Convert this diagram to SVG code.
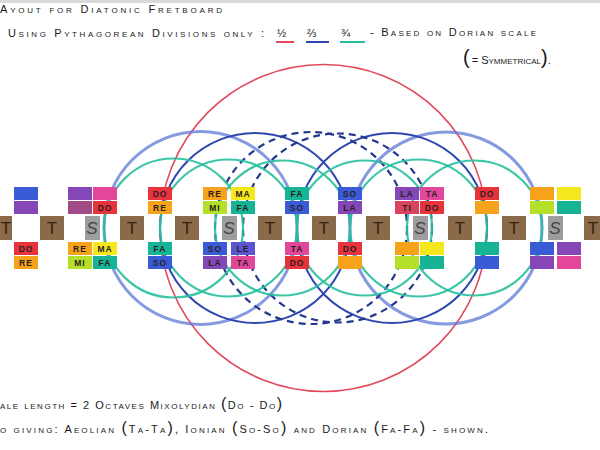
<svg xmlns="http://www.w3.org/2000/svg" width="600" height="450" viewBox="0 0 600 450">
<style>
.hand{font-family:"Liberation Sans","DejaVu Sans",sans-serif;font-variant:small-caps;fill:#1a1a1a;font-size:11px}
.red-c{fill:none;stroke:#e24a5c;stroke-width:1.6}
.bl{fill:none;stroke:#5d78d6;stroke-width:3;stroke-opacity:0.75}
.bd{fill:none;stroke:#2f48b0;stroke-width:2}
.bdash{fill:none;stroke:#24388f;stroke-width:2.2;stroke-dasharray:7 5}
.tl{fill:none;stroke:#27bf9d;stroke-width:2.2;stroke-opacity:0.9}
.lt{font-family:"Liberation Sans","DejaVu Sans",sans-serif;font-size:8.5px;font-weight:bold;fill:#2a2020;text-anchor:middle;letter-spacing:1px}
.tb{fill:#8a6a48}
.tt{font-family:"Liberation Sans","DejaVu Sans",sans-serif;font-size:17px;fill:#33230f;text-anchor:middle}
.sb{fill:#9d9d9d}
.st{font-family:"Liberation Sans","DejaVu Sans",sans-serif;font-size:17px;font-style:italic;fill:#444;text-anchor:middle}
.red{fill:#e8323c}.orange{fill:#f7a21b}.yg{fill:#b4e02a}.yellow{fill:#f4e81c}.teal{fill:#16b394}.blue{fill:#3b5bd6}.purple{fill:#8547b8}.magenta{fill:#e2479b}.maroon{fill:#a14a86}.violet{fill:#5b55d0}.pinkred{fill:#d9435e}
</style>
<rect width="600" height="450" fill="#ffffff"/>
<rect width="600" height="3" fill="#d8d8d8"/>

<g id="title">
<text class="hand" x="0" y="13" textLength="222" lengthAdjust="spacing">Ayout for Diatonic Fretboard</text>
<text class="hand" x="8" y="37" textLength="256" lengthAdjust="spacing">Using Pythagorean Divisions only :</text>
<text class="hand" x="277" y="37" font-size="15">½</text>
<line x1="276" y1="42" x2="294" y2="42" stroke="#e24a5c" stroke-width="2"/>
<text class="hand" x="307" y="37" font-size="15">⅔</text>
<line x1="306" y1="42" x2="329" y2="42" stroke="#2f48b0" stroke-width="2"/>
<text class="hand" x="341" y="37" font-size="15">¾</text>
<line x1="340" y1="42" x2="365" y2="42" stroke="#27bf9d" stroke-width="2"/>
<text class="hand" x="370" y="36" textLength="166" lengthAdjust="spacing">- Based on Dorian scale</text>
<text class="hand" x="463" y="64"><tspan font-size="20" font-variant="normal">(</tspan><tspan dx="2">= Symmetrical</tspan><tspan font-size="20" font-variant="normal">)</tspan>.</text>
</g>

<g id="connectors">
<circle class="red-c" cx="323.5" cy="228" r="163.5"/>
<circle class="bl" cx="200.5" cy="228" r="96.5"/>
<circle class="bl" cx="446" cy="228" r="96"/>
<circle class="bd" cx="255" cy="228" r="95"/>
<circle class="bd" cx="392" cy="228" r="95"/>
<circle class="bdash" cx="311" cy="228" r="96"/>
<circle class="bdash" cx="337.5" cy="228" r="94.5"/>
<circle class="tl" cx="173.5" cy="228" r="69.5"/>
<circle class="tl" cx="228.5" cy="228" r="68.5"/>
<circle class="tl" cx="282.5" cy="228" r="67.5"/>
<circle class="tl" cx="364.5" cy="228" r="67.5"/>
<circle class="tl" cx="418.5" cy="228" r="68.5"/>
<circle class="tl" cx="474.5" cy="228" r="67.5"/>
</g>

<g id="steps">
<g id="t0"><rect class="tb" x="-12" y="216" width="24" height="24"/><text class="tt" x="6" y="234">T</text></g>
<g id="t1"><rect class="tb" x="40" y="216" width="24" height="24"/><text class="tt" x="52" y="234">T</text></g>
<g id="s1"><rect class="sb" x="85" y="216" width="15" height="24"/><text class="st" x="92" y="234">S</text></g>
<g id="t2"><rect class="tb" x="120" y="216" width="24" height="24"/><text class="tt" x="132" y="234">T</text></g>
<g id="t3"><rect class="tb" x="175" y="216" width="24" height="24"/><text class="tt" x="187" y="234">T</text></g>
<g id="s2"><rect class="sb" x="222" y="216" width="15" height="24"/><text class="st" x="229" y="234">S</text></g>
<g id="t4"><rect class="tb" x="258" y="216" width="24" height="24"/><text class="tt" x="270" y="234">T</text></g>
<g id="t5"><rect class="tb" x="312" y="216" width="24" height="24"/><text class="tt" x="324" y="234">T</text></g>
<g id="t6"><rect class="tb" x="366" y="216" width="24" height="24"/><text class="tt" x="378" y="234">T</text></g>
<g id="s3"><rect class="sb" x="413" y="216" width="15" height="24"/><text class="st" x="420" y="234">S</text></g>
<g id="t7"><rect class="tb" x="448" y="216" width="24" height="24"/><text class="tt" x="460" y="234">T</text></g>
<g id="t8"><rect class="tb" x="502" y="216" width="24" height="24"/><text class="tt" x="514" y="234">T</text></g>
<g id="s4"><rect class="sb" x="548" y="216" width="15" height="24"/><text class="st" x="555" y="234">S</text></g>
<g id="t9"><rect class="tb" x="584" y="216" width="24" height="24"/><text class="tt" x="593" y="234">T</text></g>
</g>

<g id="frets">
<g id="f0"><rect class="blue" x="14" y="187" width="24" height="13"/><rect class="purple" x="14" y="201" width="24" height="13"/><rect class="red" x="14" y="242" width="24" height="13"/><text class="lt" x="26" y="252">DO</text><rect class="orange" x="14" y="256" width="24" height="13"/><text class="lt" x="26" y="266">RE</text></g>
<g id="f1"><rect class="purple" x="68" y="187" width="24" height="13"/><rect class="maroon" x="68" y="201" width="24" height="13"/><rect class="orange" x="68" y="242" width="24" height="13"/><text class="lt" x="80" y="252">RE</text><rect class="yg" x="68" y="256" width="24" height="13"/><text class="lt" x="80" y="266">MI</text></g>
<g id="f2"><rect class="magenta" x="93" y="187" width="24" height="13"/><rect class="red" x="93" y="201" width="24" height="13"/><text class="lt" x="105" y="211">DO</text><rect class="yellow" x="93" y="242" width="24" height="13"/><text class="lt" x="105" y="252">MA</text><rect class="teal" x="93" y="256" width="24" height="13"/><text class="lt" x="105" y="266">FA</text></g>
<g id="f3"><rect class="red" x="148" y="187" width="24" height="13"/><text class="lt" x="160" y="197">DO</text><rect class="orange" x="148" y="201" width="24" height="13"/><text class="lt" x="160" y="211">RE</text><rect class="teal" x="148" y="242" width="24" height="13"/><text class="lt" x="160" y="252">FA</text><rect class="blue" x="148" y="256" width="24" height="13"/><text class="lt" x="160" y="266">SO</text></g>
<g id="f4"><rect class="orange" x="203" y="187" width="24" height="13"/><text class="lt" x="215" y="197">RE</text><rect class="yg" x="203" y="201" width="24" height="13"/><text class="lt" x="215" y="211">MI</text><rect class="blue" x="203" y="242" width="24" height="13"/><text class="lt" x="215" y="252">SO</text><rect class="purple" x="203" y="256" width="24" height="13"/><text class="lt" x="215" y="266">LA</text></g>
<g id="f5"><rect class="yellow" x="231" y="187" width="24" height="13"/><text class="lt" x="243" y="197">MA</text><rect class="teal" x="231" y="201" width="24" height="13"/><text class="lt" x="243" y="211">FA</text><rect class="violet" x="231" y="242" width="24" height="13"/><text class="lt" x="243" y="252">LE</text><rect class="magenta" x="231" y="256" width="24" height="13"/><text class="lt" x="243" y="266">TA</text></g>
<g id="f6"><rect class="teal" x="285" y="187" width="24" height="13"/><text class="lt" x="297" y="197">FA</text><rect class="blue" x="285" y="201" width="24" height="13"/><text class="lt" x="297" y="211">SO</text><rect class="magenta" x="285" y="242" width="24" height="13"/><text class="lt" x="297" y="252">TA</text><rect class="red" x="285" y="256" width="24" height="13"/><text class="lt" x="297" y="266">DO</text></g>
<g id="f7"><rect class="blue" x="338" y="187" width="24" height="13"/><text class="lt" x="350" y="197">SO</text><rect class="purple" x="338" y="201" width="24" height="13"/><text class="lt" x="350" y="211">LA</text><rect class="red" x="338" y="242" width="24" height="13"/><text class="lt" x="350" y="252">DO</text><rect class="orange" x="338" y="256" width="24" height="13"/></g>
<g id="f8"><rect class="purple" x="395" y="187" width="24" height="13"/><text class="lt" x="407" y="197">LA</text><rect class="pinkred" x="395" y="201" width="24" height="13"/><text class="lt" x="407" y="211">TI</text><rect class="orange" x="395" y="242" width="24" height="13"/><rect class="yg" x="395" y="256" width="24" height="13"/></g>
<g id="f9"><rect class="magenta" x="420" y="187" width="24" height="13"/><text class="lt" x="432" y="197">TA</text><rect class="red" x="420" y="201" width="24" height="13"/><text class="lt" x="432" y="211">DO</text><rect class="yellow" x="420" y="242" width="24" height="13"/><rect class="teal" x="420" y="256" width="24" height="13"/></g>
<g id="f10"><rect class="red" x="475" y="187" width="24" height="13"/><text class="lt" x="487" y="197">DO</text><rect class="orange" x="475" y="201" width="24" height="13"/><rect class="teal" x="475" y="242" width="24" height="13"/><rect class="blue" x="475" y="256" width="24" height="13"/></g>
<g id="f11"><rect class="orange" x="530" y="187" width="24" height="13"/><rect class="yg" x="530" y="201" width="24" height="13"/><rect class="blue" x="530" y="242" width="24" height="13"/><rect class="purple" x="530" y="256" width="24" height="13"/></g>
<g id="f12"><rect class="yellow" x="557" y="187" width="24" height="13"/><rect class="teal" x="557" y="201" width="24" height="13"/><rect class="purple" x="557" y="242" width="24" height="13"/><rect class="magenta" x="557" y="256" width="24" height="13"/></g>
</g>

<g id="notes">
<text class="hand" x="0" y="409" textLength="282" lengthAdjust="spacing">ale length = 2 Octaves Mixolydian <tspan font-size="16" font-variant="normal">(</tspan>Do - Do<tspan font-size="16" font-variant="normal">)</tspan></text>
<text class="hand" x="0" y="433" textLength="488" lengthAdjust="spacing">o giving: Aeolian <tspan font-size="16" font-variant="normal">(</tspan>Ta-Ta<tspan font-size="16" font-variant="normal">)</tspan>, Ionian <tspan font-size="16" font-variant="normal">(</tspan>So-So<tspan font-size="16" font-variant="normal">)</tspan> and Dorian <tspan font-size="16" font-variant="normal">(</tspan>Fa-Fa<tspan font-size="16" font-variant="normal">)</tspan> - shown.</text>
</g>
</svg>
